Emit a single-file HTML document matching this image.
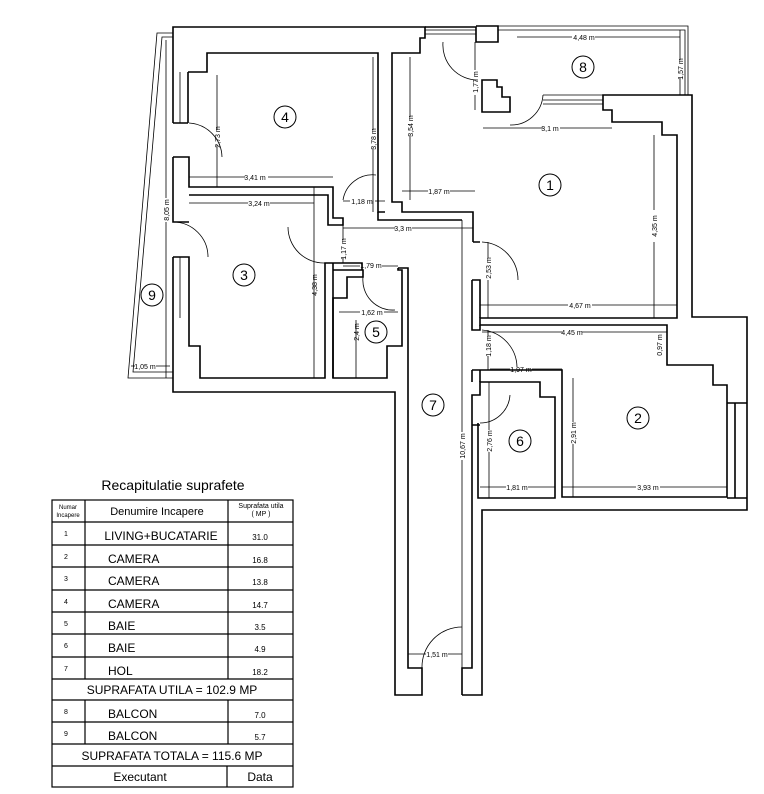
<!DOCTYPE html>
<html><head><meta charset="utf-8"><style>
html,body{margin:0;padding:0;background:#fff;}
svg{display:block;}
text{font-family:"Liberation Sans",sans-serif;fill:#000;}
.d{font-size:7px;}
</style></head><body>
<svg width="764" height="794" viewBox="0 0 764 794" xmlns="http://www.w3.org/2000/svg">
<g fill="none" stroke="#000" stroke-width="1.6" stroke-linejoin="miter">
<path d="M173,72 V27 H425 V38 H420 V53 H392 V202 H402 V212 H473 V242"/>
<path d="M188,72 H207 V53 H378 V212 H385"/>
<path d="M173,72 V123 M188,72 V123"/>
<path d="M173,123 H188 M173,157 H189 V187 H333 V218 H343 V225 H340"/>
<path d="M173,157 V222 H189 M189,195 H328 V225 H340"/>
<path d="M173,257 H189 V318 M173,257 V318"/>
<path d="M173,318 V392 H395 V695 H422 V668 H408 V268 H398"/>
<path d="M189,318 V346 H200 V378 H325 V263 H333"/>
<path d="M333,378 V298 H347 V277 H363 V270 H333 M333,263 H362 V270"/>
<path d="M333,263 V378 H387 V346 H402 V270 H398 V268"/>
<path d="M462,695 H482 V510 H747 V317 H692 V95 H603 V110 H612 V122 H662 V135 H677 V318 H480 V325 H667 V365 H713 V385 H727 V403"/>
<path d="M462,695 V668 H472 V425 H480 M472,425 V395 H480 V382 H540 V397 H555 V498 H478 V423 M480,395 V382"/>
<path d="M473,242 H480 M472,280 H480 V318 M472,280 V330 H480 V325 M472,370 V382 M472,370 H562 V497 H727 V403 M480,370 V382 M562,370 V382"/>
<path d="M727,403 H747 M727,498 H747 M735,403 V498"/>
<path d="M462,220 H378 V212"/>
<path d="M425,27 H476 V42 H498 V26 H476 M482,80 H497 V87 H502 V97 H510 V112 H482 Z"/>
</g>
<g fill="none" stroke="#000" stroke-width="0.8">
<path d="M425,30 H476 M425,34 H476 M498,26 H688 V95 M498,30 H685 V95"/>
<path d="M543,95 H603 M543,100 H603 M543,104 H603"/>
<path d="M173,33 H157 L128,378 H173 M173,37 H162 L133,372 H173"/>
<path d="M180,72 V123 M180,257 V318"/>
<path d="M189,123 A35,35 0 0 1 222,157 M173,222 A35,35 0 0 1 208,257 M288,227 A36,36 0 0 0 325,263 M343,200 A30,30 0 0 1 376,175 M363,277 A30,30 0 0 0 395,310 M443,42 A35,35 0 0 0 478,80 M510,125 A32,32 0 0 0 543,95 M482,242 A38,38 0 0 1 518,280 M482,330 A38,38 0 0 1 517,367 M480,423 A30,30 0 0 0 510,395 M422,668 A40,40 0 0 1 462,627"/>
<path d="M517,37 H572 M595,37 H680 M680,30 V60 M680,78 V95 M475,42 V70 M475,95 V110 M483,128 H543 M560,128 H612 M410,57 V117 M410,135 V200 M373,57 V130 M373,148 V212 M217,75 V130 M217,145 V187 M189,177 H245 M268,177 H333 M189,203 H248 M270,203 H314 M314,187 V378 M343,201 H350 M375,201 H385 M402,191 H428 M450,191 H475 M343,228 H395 M412,228 H473 M343,225 V240 M343,258 V263 M343,266 H360 M382,266 H398 M339,312 H360 M384,312 H398 M356,320 V378 M166,40 V198 M166,222 V378 M131,366 H135 M156,366 H170 M488,242 V258 M488,280 V318 M480,305 H568 M592,305 H677 M654,135 V210 M654,242 V318 M482,332 H562 M582,332 H667 M488,330 V336 M488,356 V370 M490,369 H510 M532,369 H562 M489,382 V430 M489,452 V498 M573,378 V422 M573,444 V497 M462,220 V432 M462,460 V668 M480,487 H506 M528,487 H555 M562,487 H636 M660,487 H727 M408,654 H426 M448,654 H462"/>
</g>
<g stroke="#000" stroke-width="1" fill="none">
<circle cx="550" cy="185" r="11"/><circle cx="638" cy="418" r="11"/><circle cx="244" cy="275" r="11"/><circle cx="285" cy="117" r="11"/><circle cx="376" cy="332" r="11"/><circle cx="520" cy="441" r="11"/><circle cx="433" cy="405" r="11"/><circle cx="583" cy="67" r="11"/><circle cx="152" cy="295" r="11"/>
</g>
<g font-size="14" text-anchor="middle">
<text x="550" y="190">1</text><text x="638" y="423">2</text><text x="244" y="280">3</text><text x="285" y="122">4</text><text x="376" y="337">5</text><text x="520" y="446">6</text><text x="433" y="410">7</text><text x="583" y="72">8</text><text x="152" y="300">9</text>
</g>
<g class="d" text-anchor="middle">
<text x="584" y="40">4,48 m</text><text x="255" y="180">3,41 m</text><text x="259" y="206">3,24 m</text><text x="362" y="204">1,18 m</text><text x="439" y="194">1,87 m</text><text x="403" y="231">3,3 m</text><text x="550" y="131">3,1 m</text><text x="371" y="268">1,79 m</text><text x="372" y="315">1,62 m</text><text x="145" y="369">1,05 m</text><text x="580" y="308">4,67 m</text><text x="572" y="335">4,45 m</text><text x="521" y="372">1,97 m</text><text x="517" y="490">1,81 m</text><text x="648" y="490">3,93 m</text><text x="437" y="657">1,51 m</text>
<text transform="translate(683,69) rotate(-90)">1,57 m</text>
<text transform="translate(478,82) rotate(-90)">1,77 m</text>
<text transform="translate(413,126) rotate(-90)">3,54 m</text>
<text transform="translate(376,139) rotate(-90)">3,78 m</text>
<text transform="translate(220,137) rotate(-90)">2,73 m</text>
<text transform="translate(169,210) rotate(-90)">8,05 m</text>
<text transform="translate(317,285) rotate(-90)">4,38 m</text>
<text transform="translate(346,249) rotate(-90)">1,17 m</text>
<text transform="translate(359,332) rotate(-90)">2,4 m</text>
<text transform="translate(491,268) rotate(-90)">2,53 m</text>
<text transform="translate(657,226) rotate(-90)">4,35 m</text>
<text transform="translate(662,345) rotate(-90)">0,97 m</text>
<text transform="translate(491,346) rotate(-90)">1,18 m</text>
<text transform="translate(492,441) rotate(-90)">2,76 m</text>
<text transform="translate(576,433) rotate(-90)">2,91 m</text>
<text transform="translate(465,446) rotate(-90)">10,67 m</text>
</g>
<text x="173" y="490" font-size="14" text-anchor="middle">Recapitulatie suprafete</text>
<g stroke="#000" stroke-width="1.2" fill="none">
<rect x="52" y="500" width="241" height="287"/>
<path d="M52,522 H293 M52,545 H293 M52,567 H293 M52,590 H293 M52,612 H293 M52,634 H293 M52,657 H293 M52,679 H293 M52,700 H293 M52,722 H293 M52,744 H293 M52,766 H293"/>
<path d="M85,500 V679 M85,700 V744 M228,500 V679 M228,700 V744 M227,766 V787"/>
</g>
<g text-anchor="middle">
<text x="68" y="509" font-size="6">Numar</text><text x="68" y="517" font-size="6">Incapere</text>
<text x="157" y="515" font-size="11">Denumire Incapere</text>
<text x="261" y="508" font-size="7">Suprafata utila</text><text x="261" y="516" font-size="7">( MP )</text>
<g font-size="7"><text x="66" y="536">1</text><text x="66" y="559">2</text><text x="66" y="581">3</text><text x="66" y="604">4</text><text x="66" y="626">5</text><text x="66" y="648">6</text><text x="66" y="671">7</text><text x="66" y="714">8</text><text x="66" y="736">9</text></g>
<g font-size="8"><text x="260" y="540">31.0</text><text x="260" y="563">16.8</text><text x="260" y="585">13.8</text><text x="260" y="608">14.7</text><text x="260" y="630">3.5</text><text x="260" y="652">4.9</text><text x="260" y="675">18.2</text><text x="260" y="718">7.0</text><text x="260" y="740">5.7</text></g>
<text x="161" y="540" font-size="12">LIVING+BUCATARIE</text>
</g>
<g font-size="12">
<text x="108" y="563">CAMERA</text><text x="108" y="585">CAMERA</text><text x="108" y="608">CAMERA</text><text x="108" y="630">BAIE</text><text x="108" y="652">BAIE</text><text x="108" y="675">HOL</text><text x="108" y="718">BALCON</text><text x="108" y="740">BALCON</text>
</g>
<g font-size="12" text-anchor="middle">
<text x="172" y="694">SUPRAFATA UTILA = 102.9 MP</text>
<text x="172" y="760">SUPRAFATA  TOTALA = 115.6 MP</text>
<text x="140" y="781">Executant</text><text x="260" y="781">Data</text>
</g>
</svg>
</body></html>
